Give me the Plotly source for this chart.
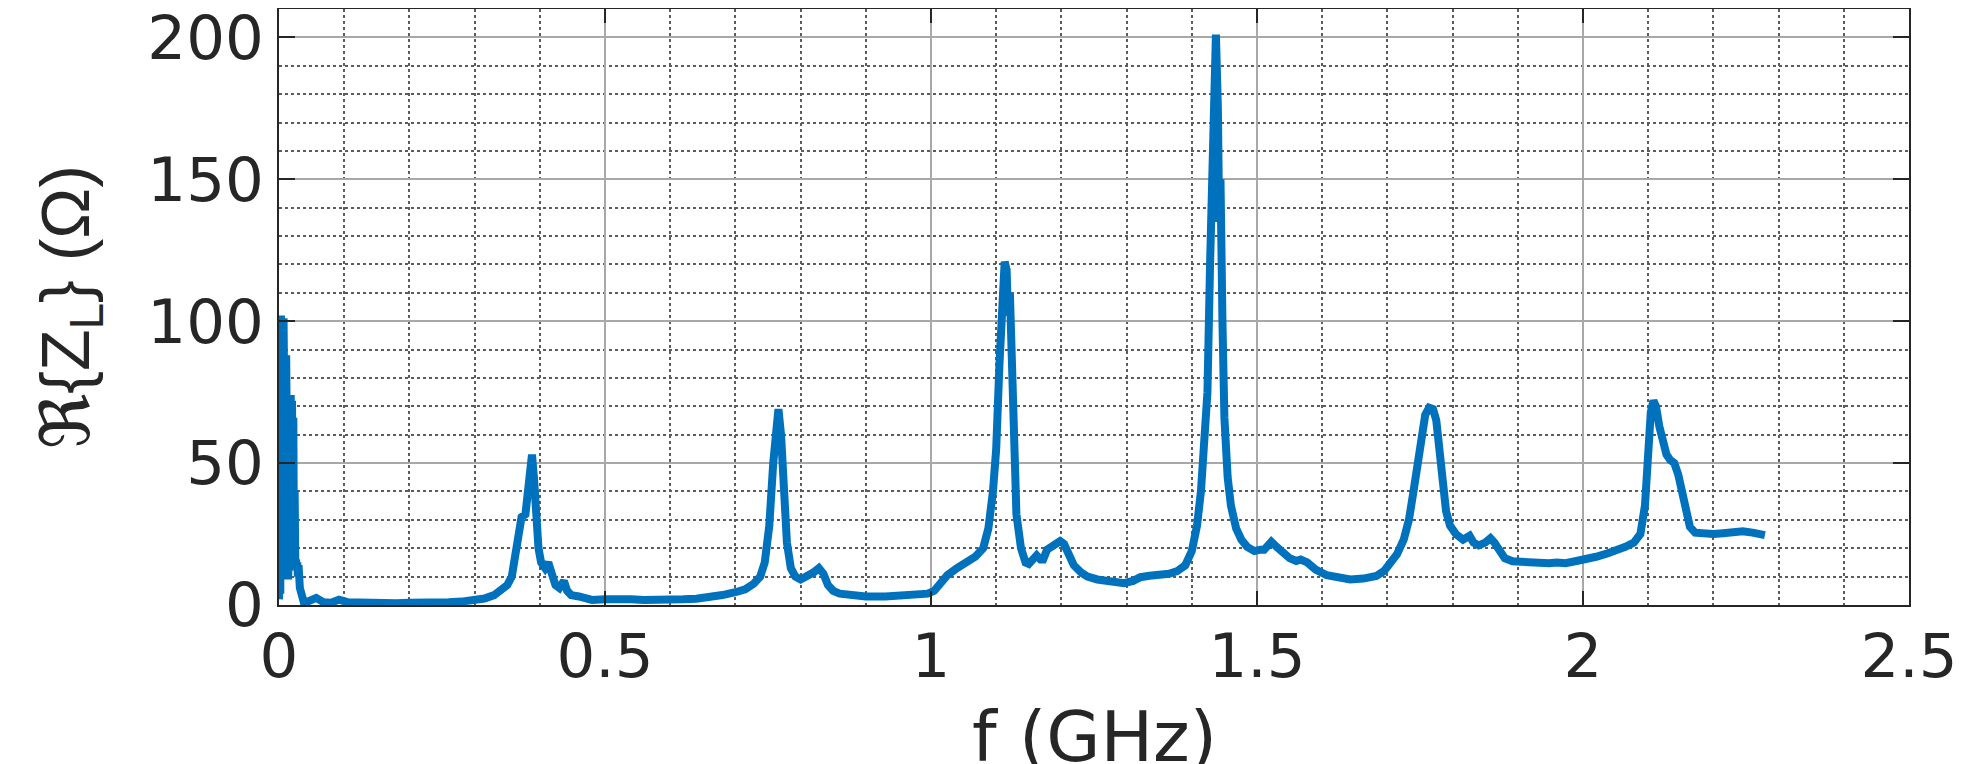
import plotly.graph_objects as go

# Frequency (GHz) and Re{Z_L} (Ohm)
freq_ghz = [
    0.000, 0.001, 0.002, 0.003, 0.004, 0.005, 0.006, 0.007, 0.008, 0.009,
    0.010, 0.011, 0.012, 0.013, 0.014, 0.015, 0.016, 0.017, 0.018, 0.019,
    0.020, 0.021, 0.022, 0.023, 0.024, 0.025, 0.026, 0.027, 0.028, 0.029,
    0.030, 0.032, 0.034, 0.036, 0.038, 0.040, 0.044, 0.057, 0.068, 0.080,
    0.092, 0.105, 0.120, 0.140, 0.160, 0.180, 0.200, 0.220, 0.240, 0.260,
    0.280, 0.300, 0.315, 0.330, 0.340, 0.350, 0.357, 0.362, 0.367, 0.372,
    0.378, 0.382, 0.385, 0.388, 0.391, 0.394, 0.398, 0.402, 0.408, 0.413,
    0.418, 0.424, 0.430, 0.437, 0.442, 0.448, 0.460, 0.470, 0.480, 0.500,
    0.520, 0.540, 0.560, 0.580, 0.600, 0.620, 0.640, 0.660, 0.680, 0.700,
    0.715, 0.728, 0.738, 0.745, 0.752, 0.758, 0.763, 0.766, 0.770, 0.774,
    0.779, 0.785, 0.792, 0.800, 0.810, 0.820, 0.828, 0.835, 0.842, 0.850,
    0.860, 0.875, 0.900, 0.930, 0.960, 0.980, 0.995, 1.005, 1.015, 1.025,
    1.040, 1.055, 1.068, 1.080, 1.088, 1.095, 1.100, 1.105, 1.109, 1.113,
    1.116, 1.118, 1.121, 1.124, 1.127, 1.131, 1.138, 1.145, 1.150, 1.157,
    1.162, 1.168, 1.172, 1.178, 1.185, 1.192, 1.198, 1.204, 1.210, 1.219,
    1.230, 1.240, 1.255, 1.270, 1.285, 1.296, 1.310, 1.321, 1.335, 1.350,
    1.365, 1.378, 1.390, 1.400, 1.408, 1.414, 1.419, 1.424, 1.428, 1.431,
    1.434, 1.437, 1.440, 1.442, 1.444, 1.447, 1.450, 1.455, 1.460, 1.468,
    1.476, 1.485, 1.496, 1.505, 1.511, 1.517, 1.522, 1.530, 1.540, 1.550,
    1.560, 1.567, 1.577, 1.590, 1.607, 1.625, 1.643, 1.663, 1.683, 1.695,
    1.705, 1.715, 1.725, 1.733, 1.740, 1.747, 1.753, 1.758, 1.764, 1.770,
    1.775, 1.780, 1.785, 1.790, 1.796, 1.805, 1.816, 1.826, 1.832, 1.840,
    1.850, 1.858, 1.864, 1.871, 1.880, 1.892, 1.910, 1.930, 1.948, 1.960,
    1.973, 1.990, 2.005, 2.020, 2.035, 2.050, 2.065, 2.078, 2.088, 2.095,
    2.100, 2.104, 2.108, 2.112, 2.117, 2.122, 2.128, 2.134, 2.140, 2.146,
    2.152, 2.158, 2.164, 2.172, 2.185, 2.200, 2.215, 2.230, 2.245, 2.260,
    2.279,
]
re_zl = [
    2, 16, 4, 102, 30, 98, 12, 101, 40, 92,
    20, 88, 14, 35, 9, 20, 12, 30, 74, 25,
    72, 18, 66, 14, 40, 15, 16, 13, 15, 10,
    14, 6, 3, 1.5, 1, 1.2, 1.2, 2.5, 1.0, 0.8,
    1.9, 1.0, 0.8, 0.6, 0.9, 0.6, 0.8, 0.7, 0.9, 1.0,
    1.2, 1.6, 2.3, 3.5, 5, 7, 10, 17, 26, 31,
    32, 40, 52, 53, 45, 30, 20, 15, 13, 15,
    10, 7, 6, 8.5, 5, 3.5, 3, 2.5, 1.8, 2,
    2.3, 2, 1.8, 1.7, 1.8, 2, 2.2, 2.5, 3.5, 4.5,
    5.5, 7.5, 10, 15, 28, 50, 68, 69, 60, 40,
    22, 13, 10, 9, 10, 11.5, 13, 11, 7, 5,
    4, 3.5, 3, 3, 3.2, 3.5, 4, 5, 8, 10.5,
    13, 15, 17, 20, 27, 40, 55, 85, 112, 121,
    118, 102, 110, 85, 52, 32, 20, 15, 14.5, 17,
    17.5, 16, 16, 19.5, 20.5, 21.5, 22.5, 21.5, 19, 14,
    11.5, 10, 9, 8.5, 8, 7.7, 8.5, 9.8, 10.3, 10.5,
    11, 12, 14, 19, 28, 40, 55, 75, 120, 160,
    199, 201, 175, 135, 150, 100, 66, 45, 35, 27,
    23, 20.5, 19, 19.5, 19.5, 21, 22.3, 20.5, 18.5, 16.5,
    15.5, 16, 15, 12.5, 10.5, 9.5, 9, 9.3, 10.2, 12,
    14.5, 18, 23, 30, 40, 50, 60, 67, 69.5, 69,
    65, 55, 44, 33, 28, 25, 23, 24.4, 22, 21,
    22, 23.5, 22, 19, 16.5, 15.4, 15, 15, 14.7, 15,
    14.7, 15.5, 16, 17, 18, 19, 20.5, 22, 25, 35,
    55, 68, 72, 70, 63, 57, 53, 51, 50, 46,
    40, 32, 27.5, 25.5, 25, 25, 25.3, 25.7, 26, 25.5,
    24.6,
]

x_tick_vals = [0, 0.5, 1, 1.5, 2, 2.5]
x_tick_text = ["0", "0.5", "1", "1.5", "2", "2.5"]
y_tick_vals = [0, 50, 100, 150, 200]
y_tick_text = ["0", "50", "100", "150", "200"]
x_title = "f (GHz)"
y_title = "ℜ{Z<sub>L</sub>} (Ω)"

axis_color = "#262626"
major_grid = "#a8a8a8"
minor_grid = "#5c5c5c"
sans = "DejaVu Sans, Liberation Sans, sans-serif"
tick_font = dict(family=sans, size=61, color=axis_color)

# the page body adds an 8px offset, so the figure is 8px smaller on each axis
fig_w, fig_h = 1960, 756
m_l, m_r, m_t, m_b = 271, 59, 1, 159
plot_w = fig_w - m_l - m_r
plot_h = fig_h - m_t - m_b

fig = go.Figure(
    go.Scatter(
        x=freq_ghz, y=re_zl, mode="lines",
        line=dict(color="#0072BD", width=8),
        hoverinfo="skip",
    )
)

fig.update_layout(
    width=fig_w, height=fig_h,
    margin=dict(l=m_l, r=m_r, t=m_t, b=m_b, autoexpand=False),
    plot_bgcolor="white", paper_bgcolor="white",
    showlegend=False,
    font=dict(family=sans, size=58, color=axis_color),
)

fig.update_xaxes(
    range=[0, 2.5], automargin=False,
    tickmode="array", tickvals=x_tick_vals, ticktext=x_tick_text,
    tickfont=tick_font, ticklabeloverflow="allow",
    showgrid=True, gridcolor=major_grid, gridwidth=2,
    minor=dict(dtick=0.1, tick0=0, showgrid=True, gridcolor=minor_grid,
               griddash="dot", gridwidth=1.5, ticks=""),
    ticks="inside", ticklen=14, tickwidth=2, tickcolor=axis_color,
    showline=True, linecolor=axis_color, linewidth=2, mirror="ticks",
    zeroline=False,
    ticklabelstandoff=-3,
)

fig.update_yaxes(
    range=[0, 210], automargin=False,
    tickmode="array", tickvals=y_tick_vals, ticktext=y_tick_text,
    tickfont=tick_font, ticklabeloverflow="allow",
    showgrid=True, gridcolor=major_grid, gridwidth=2,
    minor=dict(dtick=10, tick0=0, showgrid=True, gridcolor=minor_grid,
               griddash="dot", gridwidth=1.5, ticks=""),
    ticks="inside", ticklen=16, tickwidth=2, tickcolor=axis_color,
    showline=True, linecolor=axis_color, linewidth=2, mirror="ticks",
    zeroline=False,
    ticklabelstandoff=1,
)

# axis titles as annotations (the x title runs past the bottom edge, as in the reference)
fig.add_annotation(
    text=x_title, xref="paper", yref="paper",
    x=0.5, y=(m_t + plot_h - 686) / plot_h, xanchor="center", yanchor="top",
    showarrow=False,
    font=dict(family=sans, size=70, color=axis_color),
)
fig.add_annotation(
    text=y_title, xref="paper", yref="paper",
    x=(62 - m_l) / plot_w, y=0.5, xanchor="center", yanchor="middle",
    textangle=-90, showarrow=False,
    font=dict(family="Liberation Sans, DejaVu Sans, sans-serif", size=68, color=axis_color),
)

fig.write_html("out.html")
